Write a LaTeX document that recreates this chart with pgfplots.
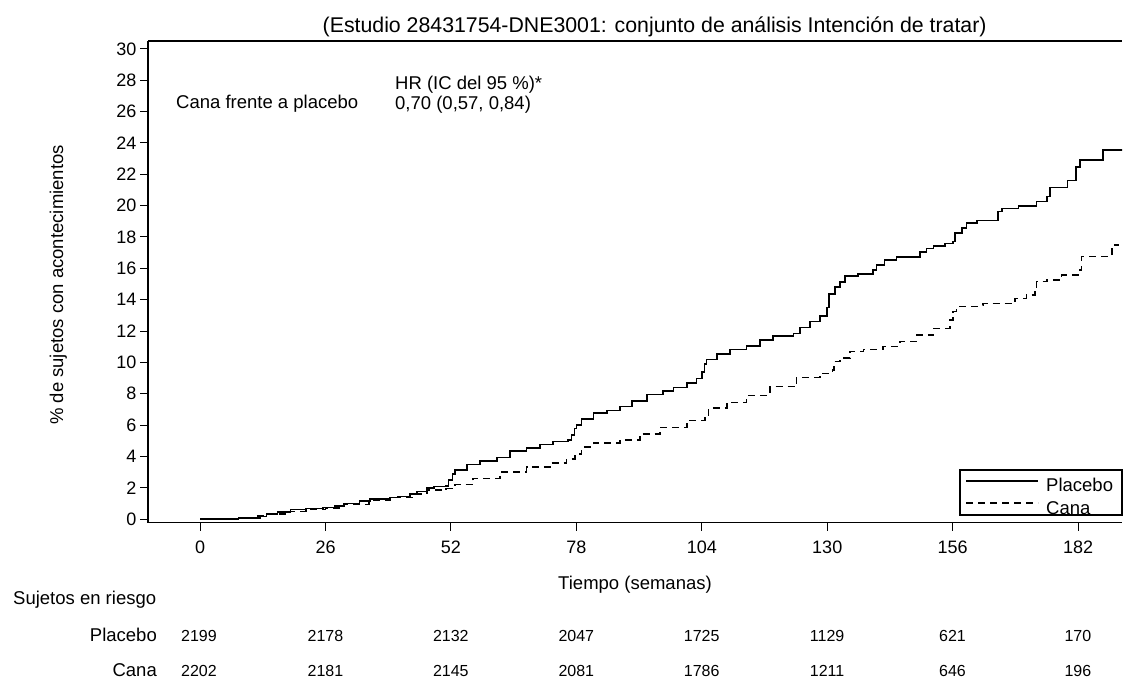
\documentclass[border=0pt]{standalone}
\usepackage{pgfplots}
\pgfplotsset{compat=1.18}
\usepackage{fontspec}
\setmainfont{Liberation Sans}
\newcommand{\fa}{\fontsize{18.5}{21}\selectfont}
\newcommand{\ft}{\fontsize{21.3}{24}\selectfont}
\newcommand{\fb}{\fontsize{18}{20}\selectfont}
\newcommand{\fc}{\fontsize{16}{18}\selectfont}

\pgfplotstableread{
w v
0 0
8 0.08
12.5 0.17
13.8 0.32
16 0.45
18.7 0.62
22 0.68
25.5 0.75
28 0.85
29.8 1.0
33 1.15
35.2 1.28
39.4 1.38
41 1.45
43.5 1.6
45 1.78
47 1.98
48.5 2.1
51 2.12
51.5 2.5
52.3 2.9
52.8 3.14
55.3 3.5
58 3.72
61.5 3.95
64.2 4.35
67.7 4.55
70.5 4.78
73.2 4.97
76.3 5.06
77 5.38
77.6 5.8
78 6.0
79.1 6.4
81.5 6.78
84.3 6.95
87 7.2
89.5 7.55
92.6 7.95
96 8.18
98.1 8.4
100.9 8.7
102.9 8.98
104 9.4
104.6 9.9
105 10.2
107.1 10.55
109.8 10.82
113.3 11.05
116.1 11.42
118.8 11.68
123 11.86
124.4 12.24
126.4 12.62
128.5 12.95
129.9 13.5
130.4 14.35
131.6 14.8
132.6 15.12
133.7 15.5
136.4 15.64
139.5 15.9
140.2 16.22
141.9 16.54
144.4 16.71
149.2 17.05
150.6 17.28
152 17.43
154.4 17.6
156.1 17.7
156.5 18.24
157.9 18.56
158.9 18.88
161 19.06
165.4 19.62
166.2 19.83
169.6 19.98
173.4 20.26
175.5 20.57
176.2 21.17
179.8 21.6
181.6 22.45
182.4 22.91
187.2 23.55
191.3 23.55
}\placebo

\pgfplotstableread{
w v
0 0
3 0.05
8 0.12
11 0.2
14 0.35
18 0.5
22 0.62
26 0.72
29.8 0.95
35 1.2
39.4 1.38
44 1.6
47 1.85
51 1.95
52.8 2.2
56.6 2.6
62.2 3.0
67.7 3.33
72.5 3.6
76 3.85
77.7 4.15
79.1 4.6
81.5 4.85
87 5.06
91.2 5.45
95.3 5.85
100.9 6.3
104.7 6.65
105.4 7.1
109.2 7.44
113.3 7.9
118.1 8.45
123.6 9.05
128.5 9.31
131.1 9.52
131.4 10.05
132.6 10.27
134.7 10.69
137.5 10.84
141.6 11.01
145.1 11.33
148.5 11.75
152 12.18
155.4 12.71
156.1 13.24
156.8 13.56
161.7 13.62
162.3 13.75
168.9 14.09
171.3 14.31
173.1 14.52
173.4 15.15
175.5 15.26
178.6 15.58
182.4 15.9
182.7 16.75
189 17.49
190.4 17.49
}\cana

\begin{document}
\begin{tikzpicture}[x=1pt,y=1pt]
\useasboundingbox (0,0) rectangle (1123,679);
\begin{axis}[
  at={(148pt,156.3pt)}, anchor=south west,
  scale only axis, width=974pt, height=481.7pt,
  xmin=-10.8, xmax=191.1, ymin=-0.22, ymax=30.5,
  axis lines*=left, axis line style={-, line width=1.3pt},
  xtick={0,26,52,78,104,130,156,182},
  ytick={0,2,...,30},
  tick align=outside, major tick length=8pt,
  tick style={line width=1pt, black},
  /pgf/number format/assume math mode=true,
  tick label style={font=\fb},
  xticklabel style={yshift=-7pt},
  clip=true,
]
\addplot[const plot, line width=1.5pt, black] table[x=w,y=v] {\placebo};
\addplot[const plot, line width=1.5pt, black, dash pattern=on 7pt off 5pt] table[x=w,y=v] {\cana};
\draw[line width=1.3pt] (rel axis cs:0,1) -- (rel axis cs:1,1);
\end{axis}
% title and labels
\node[anchor=base west, inner sep=0, font=\ft] at (322.5,646) {(Estudio 28431754-DNE3001: conjunto de análisis Intención de tratar)};
\node[anchor=base west, inner sep=0, font=\fa] at (395,589) {HR (IC del 95 \%)*};
\node[anchor=base west, inner sep=0, font=\fa] at (395,569) {0,70 (0,57, 0,84)};
\node[anchor=base west, inner sep=0, font=\fa] at (176,570.7) {Cana frente a placebo};
\node[anchor=base, inner sep=0, font=\fa] at (635,89) {Tiempo (semanas)};
\node[anchor=base, inner sep=0, font=\fa, rotate=90] at (63,394) {\% de sujetos con acontecimientos};
% legend
\draw[line width=1.2pt] (960,209) rectangle (1122,164);
\draw[line width=1.5pt] (966,198) -- (1038,198);
\draw[line width=1.5pt, dash pattern=on 7pt off 5pt] (966,176) -- (1038,176);
\node[anchor=base west, inner sep=0, font=\fa] at (1046,187) {Placebo};
\node[anchor=base west, inner sep=0, font=\fa] at (1046,164.5) {Cana};
% at-risk table
\node[anchor=base west, inner sep=0, font=\fa] at (13,74) {Sujetos en riesgo};
\node[anchor=base east, inner sep=0, font=\fa] at (157,37.3) {Placebo};
\node[anchor=base east, inner sep=0, font=\fa] at (157,2.8) {Cana};
\node[anchor=base, inner sep=0, font=\fc] at (199,37.3) {2199};
\node[anchor=base, inner sep=0, font=\fc] at (325.4,37.3) {2178};
\node[anchor=base, inner sep=0, font=\fc] at (450.8,37.3) {2132};
\node[anchor=base, inner sep=0, font=\fc] at (576.3,37.3) {2047};
\node[anchor=base, inner sep=0, font=\fc] at (701.7,37.3) {1725};
\node[anchor=base, inner sep=0, font=\fc] at (827.1,37.3) {1129};
\node[anchor=base, inner sep=0, font=\fc] at (952.5,37.3) {621};
\node[anchor=base, inner sep=0, font=\fc] at (1077.9,37.3) {170};
\node[anchor=base, inner sep=0, font=\fc] at (199,2.8) {2202};
\node[anchor=base, inner sep=0, font=\fc] at (325.4,2.8) {2181};
\node[anchor=base, inner sep=0, font=\fc] at (450.8,2.8) {2145};
\node[anchor=base, inner sep=0, font=\fc] at (576.3,2.8) {2081};
\node[anchor=base, inner sep=0, font=\fc] at (701.7,2.8) {1786};
\node[anchor=base, inner sep=0, font=\fc] at (827.1,2.8) {1211};
\node[anchor=base, inner sep=0, font=\fc] at (952.5,2.8) {646};
\node[anchor=base, inner sep=0, font=\fc] at (1077.9,2.8) {196};
\end{tikzpicture}
\end{document}
